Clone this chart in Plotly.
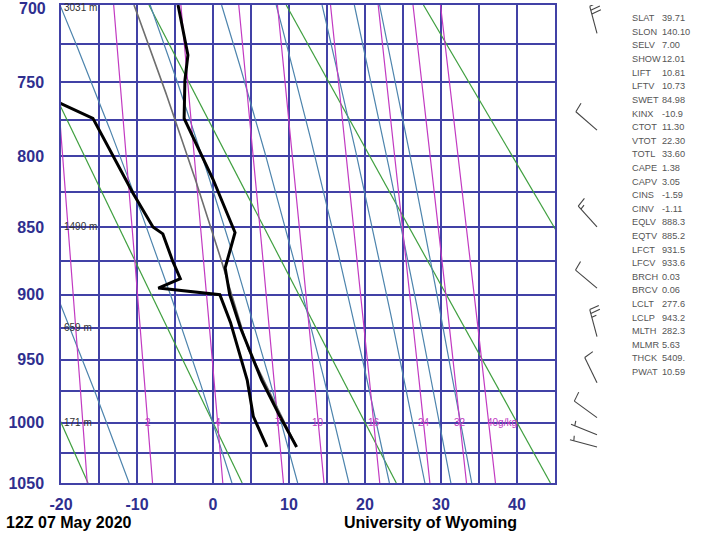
import numpy as np
import plotly.graph_objects as go

# ---------------- data ----------------
temp_p = [1020, 995, 966, 925, 900, 880, 854, 816, 774, 749, 732, 700]
temp_c = [11.0, 8.8, 6.4, 3.6, 2.2, 1.6, 2.9, 0.0, -3.8, -3.7, -3.3, -4.6]

dewp_p = [1020, 995, 966, 921, 900, 895, 888, 875, 855, 850, 826, 774, 764, 745]
dewp_c = [7.1, 5.3, 4.5, 2.3, 0.9, -7.2, -4.3, -5.3, -6.6, -7.9, -10.5, -15.8, -20.0, -28.0]

wind_p = [718, 782, 850, 895, 932, 968, 996, 1010, 1020]
wind_dir = [345, 311, 318, 310, 345, 334, 306, 292, 285]
wind_kt = [30, 10, 15, 10, 25, 10, 10, 5, 5]

height_p = [700, 850, 925, 1000]
height_lbl = ["3031 m", "1490 m", "659 m", "171 m"]

mix_ratios = [1, 2, 4, 7, 10, 16, 24, 32, 40]
mix_labels = ["", "2", "4", "7", "10", "16", "24", "32", "40g/kg"]
dry_theta_k = [253.15, 273.15, 293.15, 313.15, 333.15, 353.15]
moist_t1000 = [-14, 0, 9, 16, 21.5, 26.3, 29.8, 32.6]

x_ticks = [-20, -10, 0, 10, 20, 30, 40]
p_ticks = [700, 750, 800, 850, 900, 950, 1000, 1050]
p_minor = [725, 775, 825, 875, 925, 975, 1025]

stat_names = ["SLAT", "SLON", "SELV", "SHOW", "LIFT", "LFTV", "SWET", "KINX", "CTOT",
              "VTOT", "TOTL", "CAPE", "CAPV", "CINS", "CINV", "EQLV", "EQTV", "LFCT",
              "LFCV", "BRCH", "BRCV", "LCLT", "LCLP", "MLTH", "MLMR", "THCK", "PWAT"]
stat_values = ["39.71", "140.10", "7.00", "12.01", "10.81", "10.73", "84.98", "-10.9", "11.30",
               "22.30", "33.60", "1.38", "3.05", "-1.59", "-1.11", "888.3", "885.2", "931.5",
               "933.6", "0.03", "0.06", "277.6", "943.2", "282.3", "5.63", "5409.", "10.59"]
lcl_p = 943.2

# ---------------- helpers ----------------
KAP = 0.286
Rd, cp, Lv, EPS = 287.04, 1005.7, 2.501e6, 0.622


def fy(p):
    return np.power(np.asarray(p, dtype=float), KAP)


def es(tc):
    return 6.112 * np.exp(17.67 * tc / (tc + 243.5))


def dTdp(T, p):
    tc = T - 273.15
    e = es(tc)
    rs = EPS * e / (p - e)
    return (Rd * T + Lv * rs) / (cp + Lv * Lv * rs * EPS / (Rd * T * T)) / p


def moist(t0c, p0, p1, step):
    T = t0c + 273.15
    p = p0
    ps, ts = [p], [t0c]
    n = int(round(abs(p1 - p0) / abs(step)))
    for _ in range(n):
        k1 = dTdp(T, p)
        k2 = dTdp(T + 0.5 * step * k1, p + 0.5 * step)
        k3 = dTdp(T + 0.5 * step * k2, p + 0.5 * step)
        k4 = dTdp(T + step * k3, p + step)
        T += step * (k1 + 2 * k2 + 2 * k3 + k4) / 6
        p += step
        ps.append(p)
        ts.append(T - 273.15)
    return ps, ts


def td_from_w(w, p):
    e = p * w / (622.0 + w)
    l = np.log(e / 6.112)
    return 243.5 * l / (17.67 - l)


P = np.linspace(700, 1050, 141)
GRID = "#4141a6"
LBL = "#2f2f8f"

fig = go.Figure()

# dry adiabats
xs, ys = [], []
for th in dry_theta_k:
    t = th * (P / 1000.0) ** KAP - 273.15
    xs += list(t) + [None]
    ys += list(fy(P)) + [None]
fig.add_trace(go.Scatter(x=xs, y=ys, mode="lines", line=dict(color="#3f9f3f", width=1.2), hoverinfo="skip"))

# moist adiabats
xs, ys = [], []
for t0 in moist_t1000:
    pu, tu = moist(t0, 1000.0, 700.0, -2.5)
    pd, td = moist(t0, 1000.0, 1050.0, 2.5)
    pp = pd[::-1] + pu[1:]
    tt = td[::-1] + tu[1:]
    xs += tt + [None]
    ys += list(fy(pp)) + [None]
fig.add_trace(go.Scatter(x=xs, y=ys, mode="lines", line=dict(color="#4d84ad", width=1.2), hoverinfo="skip"))

# mixing ratio lines
xs, ys = [], []
for w in mix_ratios:
    xs += list(td_from_w(w, P)) + [None]
    ys += list(fy(P)) + [None]
fig.add_trace(go.Scatter(x=xs, y=ys, mode="lines", line=dict(color="#c23ac2", width=1.2), hoverinfo="skip"))

# parcel path
pdry = np.linspace(temp_p[0], lcl_p, 20)
tdry = (temp_c[0] + 273.15) * (pdry / temp_p[0]) ** KAP - 273.15
pm, tm = moist(float(tdry[-1]), lcl_p, 700.0, -(lcl_p - 700.0) / 120)
par_p = list(pdry) + pm[1:]
par_t = list(tdry) + tm[1:]
fig.add_trace(go.Scatter(x=par_t, y=fy(par_p), mode="lines", line=dict(color="#6e6e6e", width=1.6), hoverinfo="skip"))

# sounding
fig.add_trace(go.Scatter(x=dewp_c, y=fy(dewp_p), mode="lines", line=dict(color="black", width=3), hoverinfo="skip"))
fig.add_trace(go.Scatter(x=temp_c, y=fy(temp_p), mode="lines", line=dict(color="black", width=3), hoverinfo="skip"))

# wind barbs (x2 in pixel units, y2 same pressure scale)
PLOT_H = 537 - 5 - 54
ky = (fy(1050) - fy(700)) / PLOT_H
BX = 597.0
L = 28.0
bx, by = [], []
for p, d, s in zip(wind_p, wind_dir, wind_kt):
    r = np.radians(d)
    ux, uy = np.sin(r), np.cos(r)
    a = np.radians(80)
    vx, vy = ux * np.cos(a) + uy * np.sin(a), -ux * np.sin(a) + uy * np.cos(a)
    y0 = float(fy(p))

    def pt(dx, dup):
        return BX + dx, y0 - dup * ky

    x0_, y0_ = pt(0, 0)
    x1_, y1_ = pt(L * ux, L * uy)
    bx += [x0_, x1_, None]
    by += [y0_, y1_, None]
    n10 = s // 10
    n5 = 1 if (s % 10) >= 5 else 0
    pos = L
    if n10 == 0 and n5:
        pos = L - 4
    for i in range(n10):
        sx, sy = pos * ux, pos * uy
        a1 = pt(sx, sy)
        a2 = pt(sx + 10 * vx, sy + 10 * vy)
        bx += [a1[0], a2[0], None]
        by += [a1[1], a2[1], None]
        pos -= 4
    if n5:
        sx, sy = pos * ux, pos * uy
        a1 = pt(sx, sy)
        a2 = pt(sx + 5 * vx, sy + 5 * vy)
        bx += [a1[0], a2[0], None]
        by += [a1[1], a2[1], None]
fig.add_trace(go.Scatter(x=bx, y=by, xaxis="x2", yaxis="y2", mode="lines",
                         line=dict(color="#444444", width=1.1), hoverinfo="skip"))

PW = 703 - 61 - 10
fig.update_layout(
    width=703, height=537,
    margin=dict(l=61, r=10, t=5, b=54, autoexpand=False),
    paper_bgcolor="white", plot_bgcolor="white",
    showlegend=False,
    xaxis=dict(domain=[0, 494 / PW], range=[-20, 45], tickvals=x_ticks,
               ticktext=["<b>%d</b>" % v for v in x_ticks],
               tickfont=dict(family="Arial", size=16, color=LBL),
               showgrid=True, gridcolor=GRID, gridwidth=1.5,
               minor=dict(tickvals=[-15, -5, 5, 15, 25, 35, 45], showgrid=True,
                          gridcolor=GRID, gridwidth=1.5),
               showline=True, linecolor=GRID, linewidth=1.5, mirror=True,
               zeroline=False, ticks="", ticklabelstandoff=6, automargin=False,
               ticklabeloverflow="allow"),
    yaxis=dict(range=[float(fy(1050)), float(fy(700))], tickvals=list(fy(p_ticks)),
               ticktext=["" if v == p_ticks[0] else "<b>%d</b>" % v for v in p_ticks],
               tickfont=dict(family="Arial", size=16, color=LBL),
               showgrid=True, gridcolor=GRID, gridwidth=1.5,
               minor=dict(tickvals=list(fy(p_minor)), showgrid=True,
                          gridcolor=GRID, gridwidth=1.5),
               showline=True, linecolor=GRID, linewidth=1.5, mirror=True,
               zeroline=False, ticks="", ticklabelstandoff=12, automargin=False,
               ticklabeloverflow="allow"),
    xaxis2=dict(domain=[(560 - 61) / PW, (625 - 61) / PW], range=[560, 625],
                visible=False, anchor="y2"),
    yaxis2=dict(range=[float(fy(1050)), float(fy(700))], visible=False, anchor="x2"),
)


def py(pix):
    return 1 - (pix - 5) / PLOT_H


def px(pix):
    return (pix - 61) / PW


ann = []
# top pressure label kept fully inside the page
ann.append(dict(x=px(48), y=py(8), xref="paper", yref="paper", text="<b>%d</b>" % p_ticks[0],
                showarrow=False, xanchor="right", yanchor="middle",
                font=dict(family="Arial", size=16, color=LBL)))
for p, t in zip(height_p, height_lbl):
    ann.append(dict(x=-20, y=float(fy(p)), xref="x", yref="y", text=t, showarrow=False,
                    xanchor="left", yanchor="middle", xshift=1,
                    yshift=-2 if p == height_p[0] else 0,
                    font=dict(family="Arial", size=10, color="#333333")))
for w, t in zip(mix_ratios, mix_labels):
    if not t:
        continue
    ann.append(dict(x=float(td_from_w(w, 1000.0)), y=float(fy(1000)), xref="x", yref="y",
                    text=t, showarrow=False,
                    xanchor="left" if len(t) > 2 else "center",
                    xshift=-4 if len(t) > 2 else 0, yanchor="middle",
                    font=dict(family="Arial", size=10, color="#c23ac2")))

for i, (n, v) in enumerate(zip(stat_names, stat_values)):
    yy = 18.3 + i * 13.6
    ann.append(dict(x=px(630), y=py(yy), xref="paper", yref="paper", text=n, showarrow=False,
                    xanchor="left", yanchor="middle", font=dict(family="Arial", size=9.2, color="#555555")))
    ann.append(dict(x=px(660), y=py(yy), xref="paper", yref="paper", text=v, showarrow=False,
                    xanchor="left", yanchor="middle", font=dict(family="Arial", size=9.2, color="#555555")))

ann.append(dict(x=px(4), y=py(522), xref="paper", yref="paper", text="<b>12Z 07 May 2020</b>",
                showarrow=False, xanchor="left", yanchor="middle",
                font=dict(family="Arial", size=16, color="black")))
ann.append(dict(x=px(430), y=py(522), xref="paper", yref="paper", text="<b>University of Wyoming</b>",
                showarrow=False, xanchor="center", yanchor="middle",
                font=dict(family="Arial", size=16, color="black")))
fig.update_layout(annotations=ann)

fig.write_html("out.html", config={"displayModeBar": False},
               post_script="document.body.style.margin='0px';")
